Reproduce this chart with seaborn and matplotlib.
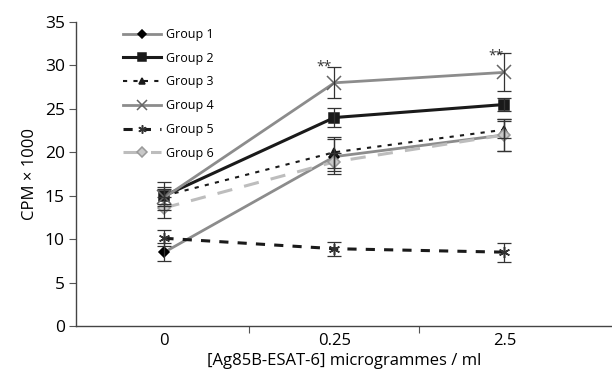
import matplotlib
matplotlib.use("Agg")
import matplotlib.pyplot as plt
import seaborn as sns
import numpy as np
import pandas as pd

categories = ["0", "0.25", "2.5"]
groups = ["Group 1", "Group 2", "Group 3", "Group 4", "Group 5", "Group 6"]
g1 = [8.5, 19.5, 22.0]
g2 = [15.0, 24.0, 25.5]
g3 = [15.0, 20.0, 22.6]
g4 = [14.8, 28.0, 29.2]
g5 = [10.1, 8.9, 8.5]
g6 = [13.6, 18.9, 22.0]
e1 = [1.0, 2.0, 1.8]
e2 = [1.6, 1.1, 0.8]
e3 = [1.0, 1.8, 1.0]
e4 = [1.0, 1.8, 2.2]
e5 = [0.9, 0.8, 1.1]
e6 = [1.2, 1.0, 1.8]
yticks = [0, 5, 10, 15, 20, 25, 30, 35]
signif = ["**", "**"]

values = [g1, g2, g3, g4, g5, g6]
errors = [e1, e2, e3, e4, e5, e6]

styles = [
    dict(color="#8c8c8c", mec="black", mfc="black", marker="D", ms=5.5, ls="-", lw=2.0),
    dict(color="#1a1a1a", mec="#1a1a1a", mfc="#1a1a1a", marker="s", ms=7, ls="-", lw=2.2),
    dict(color="#1a1a1a", mec="#1a1a1a", mfc="#1a1a1a", marker="^", ms=6, ls=(0, (2, 3)), lw=1.5),
    dict(color="#8c8c8c", mec="#666666", mfc="#666666", marker="x", ms=10, ls="-", lw=2.0),
    dict(color="#1a1a1a", mec="#333333", mfc="#333333", marker=(6, 2, 0), ms=8, ls=(0, (3, 3)), lw=2.2),
    dict(color="#bdbdbd", mec="#999999", mfc="#c8c8c8", marker="D", ms=6.5, ls=(0, (5, 4)), lw=2.2),
]

plt.rcParams["font.family"] = ["Open Sans", "DejaVu Sans"]
fig = plt.figure(figsize=(6.12, 3.82), dpi=100)
ax = fig.add_axes([76 / 612, 1 - 326 / 382, 1 - 76 / 612, (326 - 22) / 382])

pos = np.arange(len(categories))
for name, v, e, st in zip(groups, values, errors, styles):
    df = pd.DataFrame({"x": pos, "y": v})
    sns.lineplot(data=df, x="x", y="y", ax=ax, color=st["color"], linestyle=st["ls"],
                 linewidth=st["lw"], marker=st["marker"], markersize=st["ms"],
                 markeredgecolor=st["mec"], markerfacecolor=st["mfc"], markeredgewidth=1.1,
                 label=name, zorder=3)
    ax.errorbar(pos, v, yerr=e, fmt="none", ecolor="#333333", elinewidth=0.9,
                capsize=5, capthick=0.9, zorder=4)

ax.text(0.94, 29.8, signif[0], ha="center", va="center", fontsize=10, color="#333333")
ax.text(1.95, 31.1, signif[1], ha="center", va="center", fontsize=10, color="#333333")

ax.set_xlim(-0.52, (612 - 76) / 170 - 0.52)
ax.set_ylim(0, 35)
ax.set_yticks(yticks)
ax.set_yticklabels([str(t) for t in yticks], fontsize=12.5)
ax.set_xticks(pos)
ax.set_xticklabels(categories, fontsize=12)
ax.tick_params(axis="x", length=0, pad=5)
ax.set_xticks([0.5, 1.5], minor=True)
ax.tick_params(axis="x", which="minor", length=5, width=0.8, color="#555555")
ax.tick_params(axis="y", length=5, width=0.8, color="#555555", pad=3)
for s in ["top", "right"]:
    ax.spines[s].set_visible(False)
for s in ["left", "bottom"]:
    ax.spines[s].set_linewidth(1.0)
    ax.spines[s].set_color("#444444")
ax.set_xlabel("[Ag85B-ESAT-6] microgrammes / ml", fontsize=12, labelpad=3)
ax.set_ylabel("CPM \u00d7 1000", fontsize=12, labelpad=5)

leg = ax.legend(loc="upper left", bbox_to_anchor=(113 / 612, 1 - 18 / 382),
                bbox_transform=fig.transFigure, frameon=False, fontsize=9,
                handlelength=3.0, labelspacing=0.86, handletextpad=0.4, borderpad=0.3,
                markerscale=0.75)

fig.savefig("out.png", dpi=100)
